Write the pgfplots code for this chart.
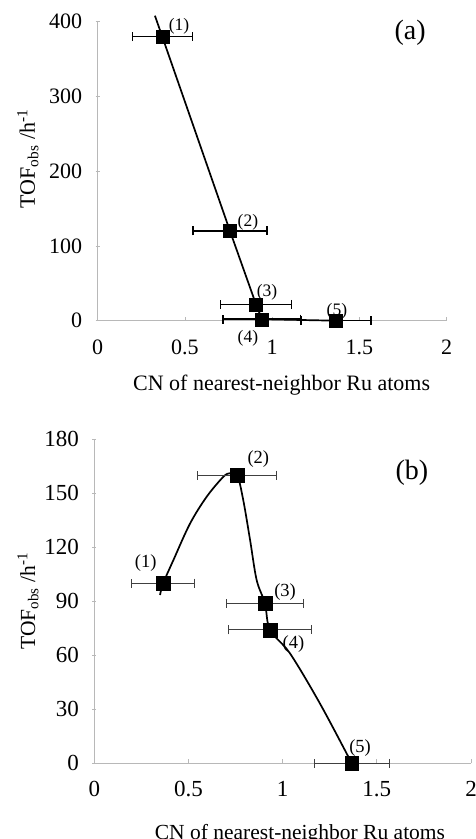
\documentclass[border=0pt]{standalone}
\usepackage{fontspec}
\setmainfont{Liberation Serif}
\usepackage{pgfplots}
\pgfplotsset{compat=1.18}

\pgfplotsset{
  cnaxis/.style={
    scale only axis,
    anchor=south west,
    xmin=0, xmax=2,
    xtick={0,0.5,1,1.5,2},
    axis x line=bottom, axis y line=left,
    axis line style={-, draw=black!28, line width=0.8pt},
    tick style={draw=black!28, line width=0.8pt},
    major tick length=4pt,
    x tick style={yshift=2pt},
    yticklabel style={xshift=-10pt},
    clip=false,
    /pgf/number format/assume math mode=true,
    xlabel={CN of nearest-neighbor Ru atoms},
    ylabel={TOF\textsubscript{obs} /h\textsuperscript{-1}},
  },
  fitline/.style={black, line width=1.7pt, no marks},
  pts/.style={only marks, mark=square*, mark size=6.5pt, black,
    error bars/.cd, x dir=both, x explicit,
    error bar style={line width=1.5pt, black},
    error mark options={rotate=90, mark size=4.5pt, line width=1.5pt}},
  ptsthin/.style={only marks, mark=square*, mark size=6.8pt, black,
    error bars/.cd, x dir=both, x explicit,
    error bar style={line width=1pt, black!75},
    error mark options={rotate=90, mark size=4.5pt, line width=1pt, black!75}},
}
\tikzset{ptlab/.style={font=\fontsize{17.5}{17.5}\selectfont}}

\begin{document}
\begin{tikzpicture}
\useasboundingbox (0,0) rectangle (476pt,839pt);

% (a)
\begin{axis}[cnaxis,
    at={(97.7pt,518.3pt)}, width=349pt, height=299pt,
    ymin=0, ymax=400, ytick={0,100,200,300,400},
    ticklabel style={font=\fontsize{22}{22}\selectfont},
    xticklabel style={yshift=-14pt},
    label style={font=\fontsize{22}{26}\selectfont},
    xlabel style={at={(axis description cs:0.527,-0.215)}, anchor=center},
    ylabel style={at={(axis description cs:-0.2,0.541)}, anchor=center},
  ]
  \addplot[fitline] coordinates {(0.328,408) (0.37,380) (0.758,120) (0.907,22) (0.941,2) (1.366,0)};
  \addplot[pts] coordinates {
    (0.37,380) +- (0.172,0)
    (0.758,120) +- (0.212,0)
    (0.907,22) +- (0.204,0)
    (0.941,2) +- (0.222,0)
    (1.366,0) +- (0.2,0)
  };
  \node[ptlab] at (axis cs:0.466,394) {(1)};
  \node[ptlab] at (axis cs:0.861,132) {(2)};
  \node[ptlab] at (axis cs:0.97,38) {(3)};
  \node[ptlab] at (axis cs:0.861,-23) {(4)};
  \node[ptlab] at (axis cs:1.371,13) {(5)};
  \node[font=\fontsize{28}{28}\selectfont] at (axis cs:1.79,385) {(a)};
\end{axis}

% (b)
\begin{axis}[cnaxis,
    at={(94.3pt,75.7pt)}, width=376.7pt, height=324.3pt,
    ymin=0, ymax=180, ytick={0,30,60,90,120,150,180},
    ticklabel style={font=\fontsize{23}{23}\selectfont},
    xticklabel style={yshift=-12pt},
    label style={font=\fontsize{21.5}{26}\selectfont},
    xlabel style={at={(axis description cs:0.546,-0.218)}, anchor=center},
    ylabel style={at={(axis description cs:-0.176,0.5)}, anchor=center},
  ]
  \addplot[fitline, smooth, tension=0.55] coordinates {
    (0.349,93.4) (0.366,100) (0.42,112.8) (0.508,133) (0.597,148) (0.685,159)
    (0.721,161) (0.759,160) (0.791,146) (0.827,124) (0.862,101.7) (0.906,88.8)
    (0.933,74) (1.039,61) (1.199,33) (1.367,0)};
  \addplot[ptsthin] coordinates {
    (0.366,100) +- (0.168,0)
    (0.759,160) +- (0.21,0)
    (0.906,88.8) +- (0.205,0)
    (0.933,74) +- (0.218,0)
    (1.367,0) +- (0.2,0)
  };
  \node[ptlab, font=\fontsize{18.5}{18.5}\selectfont] at (axis cs:0.273,111) {(1)};
  \node[ptlab, font=\fontsize{18.5}{18.5}\selectfont] at (axis cs:0.871,169) {(2)};
  \node[ptlab, font=\fontsize{18.5}{18.5}\selectfont] at (axis cs:1.013,95) {(3)};
  \node[ptlab, font=\fontsize{18.5}{18.5}\selectfont] at (axis cs:1.057,66) {(4)};
  \node[ptlab, font=\fontsize{18.5}{18.5}\selectfont] at (axis cs:1.411,8.3) {(5)};
  \node[font=\fontsize{28}{28}\selectfont] at (axis cs:1.686,161) {(b)};
\end{axis}
\end{tikzpicture}
\end{document}
